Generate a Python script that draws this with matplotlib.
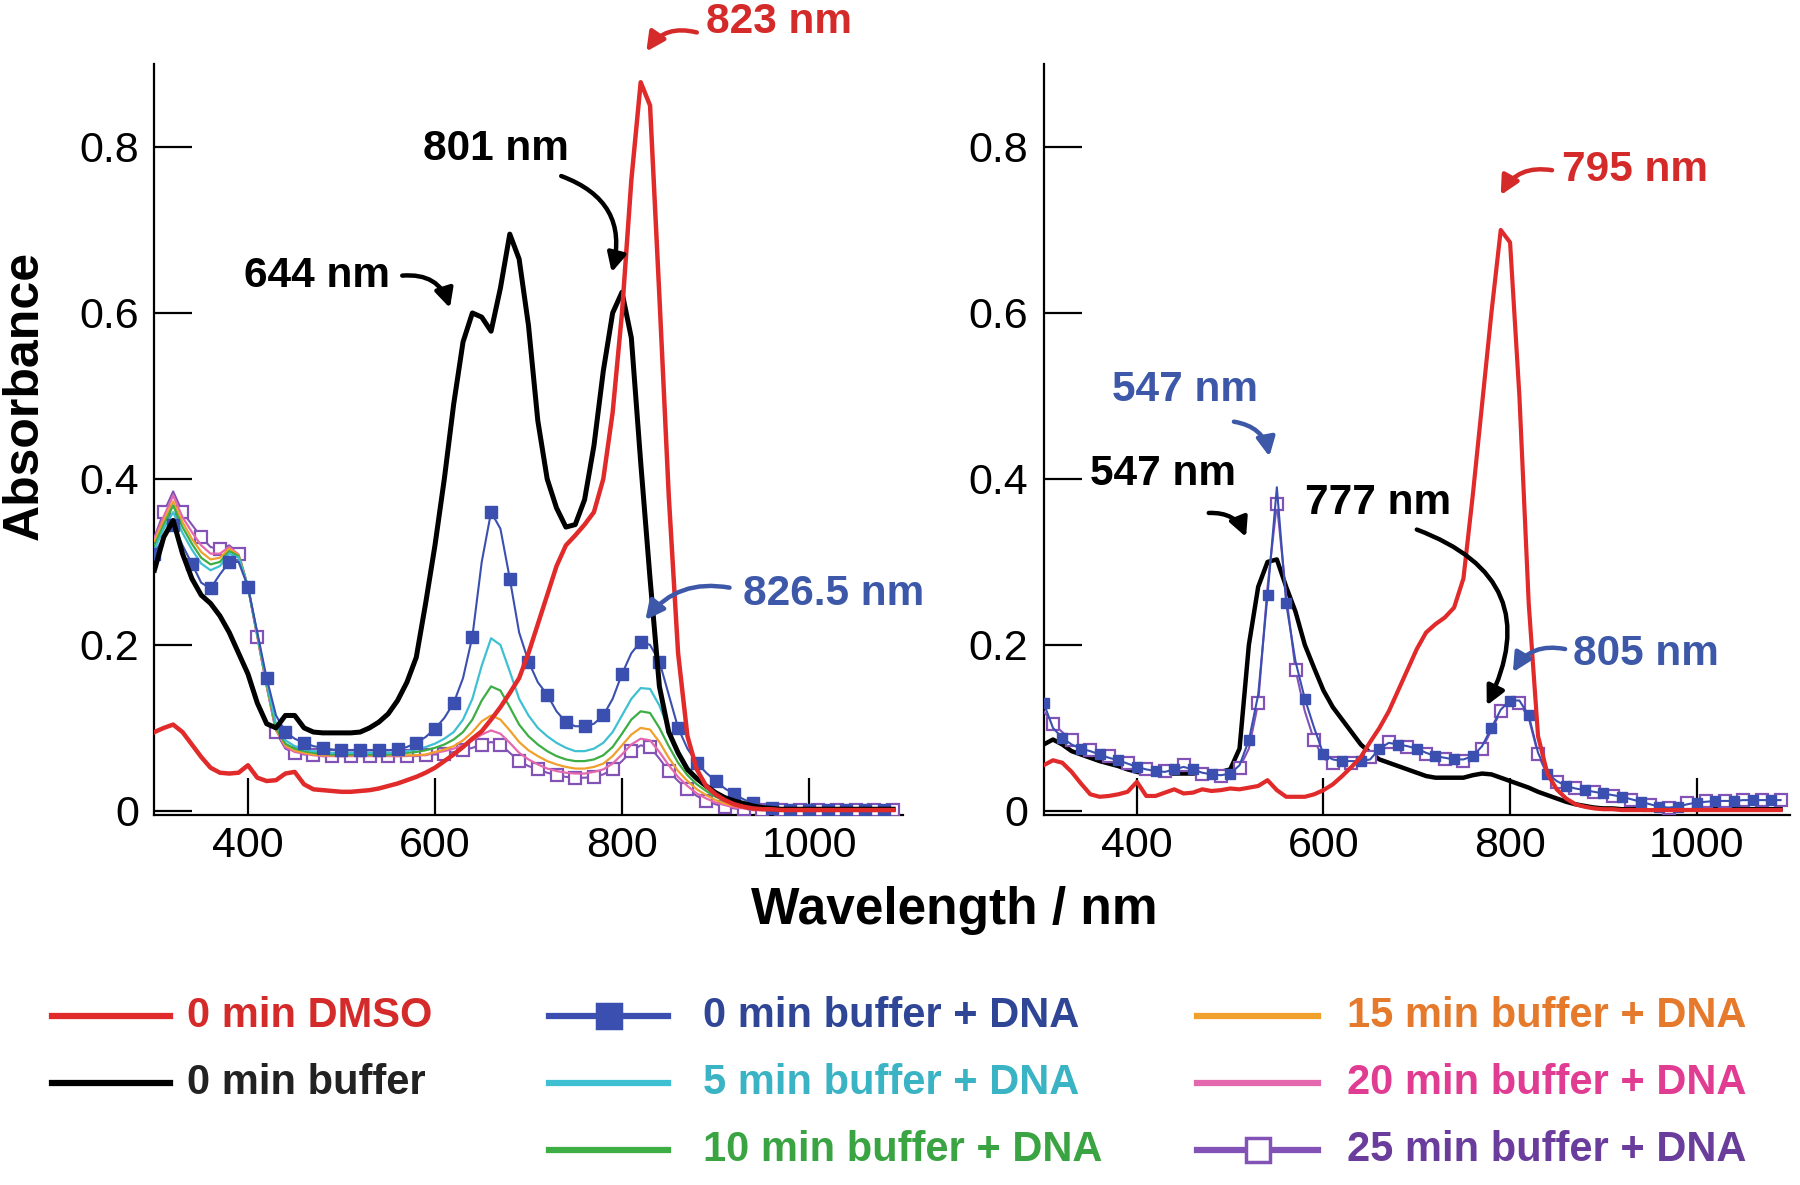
import numpy as np
import matplotlib
matplotlib.use("Agg")
import matplotlib.pyplot as plt
from matplotlib.lines import Line2D

plt.rcParams['font.family'] = ['Liberation Sans', 'DejaVu Sans']

# ---------------- data (wavelength grid 300..1090 nm, step 10) ----------------
wavelength = list(range(300, 1100, 10))

# Left panel
left_dmso = [0.095, 0.100, 0.104, 0.095, 0.080, 0.065, 0.052, 0.046, 0.045, 0.046,
             0.055, 0.040, 0.036, 0.037, 0.045, 0.047, 0.032, 0.026, 0.025, 0.024,
             0.023, 0.023, 0.024, 0.025, 0.027, 0.030, 0.033, 0.037, 0.041, 0.046,
             0.052, 0.060, 0.068, 0.077, 0.087, 0.096, 0.110, 0.125, 0.142, 0.160,
             0.190, 0.225, 0.260, 0.295, 0.320, 0.332, 0.345, 0.360, 0.400, 0.480,
             0.600, 0.760, 0.878, 0.850, 0.620, 0.380, 0.190, 0.090, 0.050, 0.030,
             0.020, 0.013, 0.008, 0.005, 0.003, 0.002, 0.002, 0.001, 0.001, 0.001,
             0.001, 0.001, 0.001, 0.001, 0.001, 0.001, 0.001, 0.001, 0.001, 0.001]
left_buffer = [0.290, 0.330, 0.350, 0.310, 0.280, 0.260, 0.250, 0.235, 0.215, 0.190,
               0.165, 0.130, 0.105, 0.100, 0.115, 0.115, 0.100, 0.095, 0.094, 0.094,
               0.094, 0.094, 0.095, 0.100, 0.107, 0.117, 0.133, 0.155, 0.185, 0.250,
               0.320, 0.400, 0.490, 0.565, 0.600, 0.595, 0.578, 0.630, 0.695, 0.665,
               0.585, 0.470, 0.400, 0.365, 0.342, 0.345, 0.375, 0.440, 0.530, 0.600,
               0.625, 0.570, 0.420, 0.280, 0.150, 0.095, 0.070, 0.050, 0.039, 0.030,
               0.022, 0.016, 0.012, 0.009, 0.006, 0.004, 0.003, 0.002, 0.002, 0.002,
               0.002, 0.002, 0.002, 0.002, 0.002, 0.002, 0.002, 0.002, 0.002, 0.002]
left_dna_0 = [0.310, 0.330, 0.345, 0.320, 0.298, 0.275, 0.268, 0.285, 0.300, 0.300,
              0.270, 0.215, 0.160, 0.115, 0.095, 0.087, 0.082, 0.078, 0.076, 0.074,
              0.073, 0.073, 0.073, 0.073, 0.073, 0.073, 0.074, 0.077, 0.082, 0.089,
              0.099, 0.112, 0.130, 0.160, 0.210, 0.300, 0.360, 0.340, 0.280, 0.215,
              0.180, 0.155, 0.140, 0.120, 0.107, 0.102, 0.102, 0.105, 0.115, 0.135,
              0.165, 0.190, 0.204, 0.200, 0.180, 0.140, 0.100, 0.075, 0.058, 0.046,
              0.036, 0.027, 0.020, 0.014, 0.009, 0.006, 0.004, 0.002, 0.001, 0.001,
              0.001, 0.001, 0.001, 0.001, 0.001, 0.001, 0.001, 0.001, 0.001, 0.001]
left_dna_5 = [0.315, 0.340, 0.360, 0.335, 0.315, 0.298, 0.290, 0.295, 0.310, 0.305,
              0.270, 0.213, 0.155, 0.105, 0.085, 0.078, 0.074, 0.072, 0.071, 0.070,
              0.070, 0.070, 0.070, 0.070, 0.070, 0.070, 0.071, 0.072, 0.074, 0.077,
              0.081, 0.087, 0.095, 0.110, 0.135, 0.175, 0.208, 0.200, 0.168, 0.135,
              0.115, 0.100, 0.090, 0.082, 0.076, 0.072, 0.072, 0.075, 0.082, 0.095,
              0.115, 0.135, 0.148, 0.147, 0.127, 0.098, 0.072, 0.053, 0.040, 0.030,
              0.022, 0.016, 0.011, 0.007, 0.005, 0.003, 0.002, 0.001, 0.001, 0.001,
              0.001, 0.001, 0.001, 0.001, 0.001, 0.001, 0.001, 0.001, 0.001, 0.001]
left_dna_10 = [0.320, 0.345, 0.368, 0.342, 0.322, 0.305, 0.297, 0.300, 0.313, 0.307,
               0.270, 0.212, 0.153, 0.100, 0.081, 0.075, 0.072, 0.070, 0.069, 0.068,
               0.068, 0.068, 0.068, 0.068, 0.068, 0.068, 0.069, 0.070, 0.071, 0.073,
               0.076, 0.080, 0.086, 0.095, 0.110, 0.133, 0.150, 0.145, 0.125, 0.104,
               0.090, 0.080, 0.072, 0.066, 0.062, 0.060, 0.060, 0.062, 0.067, 0.077,
               0.093, 0.110, 0.120, 0.118, 0.100, 0.078, 0.058, 0.043, 0.032, 0.024,
               0.017, 0.012, 0.008, 0.005, 0.003, 0.002, 0.001, 0.001, 0.001, 0.001,
               0.001, 0.001, 0.001, 0.001, 0.001, 0.001, 0.001, 0.001, 0.001, 0.001]
left_dna_15 = [0.325, 0.350, 0.373, 0.348, 0.328, 0.312, 0.303, 0.305, 0.316, 0.308,
               0.270, 0.211, 0.152, 0.098, 0.079, 0.073, 0.070, 0.068, 0.067, 0.067,
               0.067, 0.067, 0.067, 0.067, 0.067, 0.067, 0.067, 0.067, 0.067, 0.068,
               0.071, 0.074, 0.078, 0.085, 0.095, 0.108, 0.115, 0.110, 0.097, 0.083,
               0.073, 0.066, 0.060, 0.056, 0.053, 0.051, 0.051, 0.053, 0.057, 0.066,
               0.079, 0.092, 0.100, 0.098, 0.083, 0.064, 0.048, 0.036, 0.026, 0.019,
               0.013, 0.009, 0.006, 0.004, 0.002, 0.001, 0.001, 0.001, 0.001, 0.001,
               0.001, 0.001, 0.001, 0.001, 0.001, 0.001, 0.001, 0.001, 0.001, 0.001]
left_dna_20 = [0.328, 0.355, 0.380, 0.354, 0.336, 0.320, 0.310, 0.310, 0.318, 0.309,
               0.270, 0.210, 0.151, 0.097, 0.077, 0.071, 0.069, 0.067, 0.066, 0.066,
               0.066, 0.066, 0.066, 0.066, 0.066, 0.066, 0.066, 0.066, 0.067, 0.067,
               0.070, 0.072, 0.075, 0.079, 0.085, 0.092, 0.097, 0.093, 0.082, 0.070,
               0.062, 0.056, 0.051, 0.048, 0.046, 0.045, 0.045, 0.047, 0.050, 0.057,
               0.068, 0.080, 0.087, 0.085, 0.071, 0.055, 0.041, 0.030, 0.021, 0.015,
               0.010, 0.007, 0.004, 0.003, 0.001, 0.001, 0.001, 0.001, 0.001, 0.001,
               0.001, 0.001, 0.001, 0.001, 0.001, 0.001, 0.001, 0.001, 0.001, 0.001]
left_dna_25 = [0.330, 0.360, 0.385, 0.360, 0.345, 0.330, 0.318, 0.315, 0.320, 0.310,
               0.270, 0.210, 0.150, 0.095, 0.075, 0.070, 0.068, 0.067, 0.066, 0.066,
               0.066, 0.066, 0.066, 0.066, 0.066, 0.066, 0.066, 0.066, 0.066, 0.067,
               0.068, 0.069, 0.071, 0.073, 0.076, 0.080, 0.083, 0.080, 0.070, 0.060,
               0.054, 0.050, 0.046, 0.043, 0.041, 0.040, 0.040, 0.041, 0.044, 0.050,
               0.060, 0.072, 0.079, 0.077, 0.063, 0.048, 0.036, 0.026, 0.018, 0.012,
               0.008, 0.005, 0.003, 0.002, 0.001, 0.001, 0.001, 0.001, 0.001, 0.001,
               0.001, 0.001, 0.001, 0.001, 0.001, 0.001, 0.001, 0.001, 0.001, 0.001]

# Right panel
right_dmso = [0.055, 0.061, 0.058, 0.047, 0.033, 0.020, 0.017, 0.018, 0.020, 0.023,
              0.035, 0.018, 0.018, 0.022, 0.026, 0.021, 0.022, 0.026, 0.024, 0.025,
              0.027, 0.026, 0.028, 0.030, 0.037, 0.025, 0.017, 0.017, 0.017, 0.020,
              0.025, 0.032, 0.042, 0.053, 0.065, 0.083, 0.100, 0.120, 0.145, 0.170,
              0.195, 0.215, 0.225, 0.233, 0.245, 0.280, 0.380, 0.490, 0.600, 0.700,
              0.685, 0.500, 0.250, 0.090, 0.045, 0.026, 0.015, 0.008, 0.005, 0.003,
              0.002, 0.002, 0.001, 0.001, 0.001, 0.001, 0.001, 0.001, 0.001, 0.001,
              0.001, 0.001, 0.001, 0.001, 0.001, 0.001, 0.001, 0.001, 0.001, 0.001]
right_buffer = [0.080, 0.086, 0.080, 0.072, 0.068, 0.064, 0.060, 0.057, 0.054, 0.050,
                0.047, 0.045, 0.045, 0.045, 0.045, 0.045, 0.045, 0.046, 0.046, 0.047,
                0.050, 0.075, 0.200, 0.270, 0.300, 0.303, 0.270, 0.240, 0.200, 0.172,
                0.145, 0.125, 0.110, 0.095, 0.080, 0.070, 0.062, 0.058, 0.054, 0.050,
                0.046, 0.042, 0.040, 0.040, 0.040, 0.040, 0.043, 0.045, 0.044, 0.040,
                0.036, 0.032, 0.028, 0.023, 0.019, 0.015, 0.011, 0.008, 0.006, 0.004,
                0.003, 0.003, 0.002, 0.002, 0.002, 0.002, 0.002, 0.002, 0.002, 0.002,
                0.002, 0.002, 0.002, 0.002, 0.002, 0.002, 0.002, 0.002, 0.002, 0.002]
right_dna_0 = [0.130, 0.100, 0.088, 0.080, 0.075, 0.072, 0.068, 0.064, 0.061, 0.057,
               0.053, 0.050, 0.048, 0.047, 0.050, 0.053, 0.050, 0.046, 0.044, 0.043,
               0.045, 0.055, 0.085, 0.140, 0.260, 0.390, 0.250, 0.180, 0.135, 0.100,
               0.068, 0.062, 0.060, 0.060, 0.060, 0.062, 0.075, 0.082, 0.080, 0.078,
               0.075, 0.070, 0.066, 0.064, 0.062, 0.062, 0.066, 0.078, 0.100, 0.122,
               0.133, 0.133, 0.115, 0.070, 0.045, 0.036, 0.030, 0.027, 0.025, 0.023,
               0.021, 0.019, 0.017, 0.014, 0.011, 0.008, 0.005, 0.004, 0.005, 0.008,
               0.010, 0.011, 0.012, 0.012, 0.012, 0.013, 0.013, 0.013, 0.013, 0.013]
right_dna_25 = [0.120, 0.105, 0.095, 0.085, 0.078, 0.073, 0.069, 0.066, 0.062, 0.058,
                0.054, 0.050, 0.048, 0.048, 0.052, 0.055, 0.050, 0.045, 0.042, 0.042,
                0.045, 0.052, 0.075, 0.130, 0.270, 0.370, 0.260, 0.170, 0.120, 0.085,
                0.063, 0.058, 0.057, 0.058, 0.060, 0.065, 0.078, 0.083, 0.080, 0.077,
                0.073, 0.069, 0.065, 0.062, 0.061, 0.060, 0.064, 0.075, 0.097, 0.120,
                0.130, 0.130, 0.112, 0.068, 0.043, 0.035, 0.030, 0.027, 0.025, 0.023,
                0.021, 0.018, 0.016, 0.013, 0.010, 0.007, 0.005, 0.004, 0.006, 0.009,
                0.011, 0.012, 0.012, 0.012, 0.012, 0.013, 0.013, 0.013, 0.013, 0.013]

x_ticks = [400, 600, 800, 1000]
y_ticks = [0, 0.2, 0.4, 0.6, 0.8]
y_ticklabels = ['0', '0.2', '0.4', '0.6', '0.8']

legend_labels = ['0 min DMSO', '0 min buffer', '0 min buffer + DNA', '5 min buffer + DNA',
                 '10 min buffer + DNA', '15 min buffer + DNA', '20 min buffer + DNA',
                 '25 min buffer + DNA']

# ---------------- styles ----------------
C_RED = '#e12a2a'
C_BLACK = '#000000'
C_BLUE = '#3a4fb0'
C_CYAN = '#3fc0d2'
C_GREEN = '#3cae44'
C_ORANGE = '#f0a02c'
C_PINK = '#e468ae'
C_PURPLE = '#8352b6'
T_RED = '#d42a2a'
T_BLUE = '#2f4596'
T_CYAN = '#3ab3c4'
T_GREEN = '#3aa442'
T_ORANGE = '#e57a2c'
T_PINK = '#e03c92'
T_PURPLE = '#6a3d9c'
A_BLUE = '#3d58a8'

fig = plt.figure(figsize=(18, 11.85), dpi=100)
ax1 = fig.add_axes([0.0858, 0.3122, 0.4156, 0.6338])
ax2 = fig.add_axes([0.5798, 0.3122, 0.4146, 0.6338])

wl = np.array(wavelength)

def style_axis(ax):
    ax.set_xlim(300, 1100)
    ax.set_ylim(-0.005, 0.9)
    for s in ['top', 'right']:
        ax.spines[s].set_visible(False)
    for s in ['left', 'bottom']:
        ax.spines[s].set_linewidth(1.6)
    ax.set_xticks(x_ticks)
    ax.set_yticks(y_ticks)
    ax.set_yticklabels(y_ticklabels)
    ax.tick_params(direction='in', length=27, width=1.6, labelsize=31, pad=11)
    ax.tick_params(axis='x', pad=8)

# Left panel
ax1.plot(wl, left_dna_25, color=C_PURPLE, lw=1.5, marker='s', ms=8, mfc='white',
         mec=C_PURPLE, mew=1.6, markevery=(1, 2), zorder=3)
ax1.plot(wl, left_dna_20, color=C_PINK, lw=1.6, zorder=3)
ax1.plot(wl, left_dna_15, color=C_ORANGE, lw=1.6, zorder=3)
ax1.plot(wl, left_dna_10, color=C_GREEN, lw=1.6, zorder=3)
ax1.plot(wl, left_dna_5, color=C_CYAN, lw=1.6, zorder=3)
ax1.plot(wl, left_dna_0, color=C_BLUE, lw=1.5, marker='s', ms=8, mfc=C_BLUE,
         mec=C_BLUE, markevery=(0, 2), zorder=4)
ax1.plot(wl, left_buffer, color=C_BLACK, lw=3.6, zorder=5)
ax1.plot(wl, left_dmso, color=C_RED, lw=3.2, zorder=6)

# Right panel
ax2.plot(wl, right_buffer, color=C_BLACK, lw=3.2, zorder=3)
ax2.plot(wl, right_dna_25, color=C_PURPLE, lw=1.5, marker='s', ms=8, mfc='white',
         mec=C_PURPLE, mew=1.6, markevery=(1, 2), zorder=4)
ax2.plot(wl, right_dna_0, color=C_BLUE, lw=1.5, marker='s', ms=7, mfc=C_BLUE,
         mec=C_BLUE, markevery=(0, 2), zorder=4)
ax2.plot(wl, right_dmso, color=C_RED, lw=3.0, zorder=5)

style_axis(ax1)
style_axis(ax2)

# ---------------- annotations ----------------
def note(ax, text, color, txy, start, tip, rad):
    ax.text(txy[0], txy[1], text, color=color, fontsize=30.5, fontweight='bold',
            ha='center', va='center', clip_on=False, zorder=10)
    ax.annotate('', xy=tip, xytext=start,
                arrowprops=dict(arrowstyle='-|>', color=color, lw=3.2,
                                mutation_scale=28, shrinkA=0, shrinkB=0,
                                connectionstyle='arc3,rad=%s' % rad),
                annotation_clip=False, zorder=10)

note(ax1, '823 nm', T_RED, (968, 0.95), (880, 0.938), (826, 0.915), 0.35)
note(ax1, '801 nm', C_BLACK, (665, 0.797), (735, 0.765), (789, 0.649), -0.45)
note(ax1, '644 nm', C_BLACK, (474, 0.645), (565, 0.645), (616, 0.606), -0.4)
note(ax1, '826.5 nm', A_BLUE, (1026, 0.261), (915, 0.269), (825, 0.23), 0.3)

note(ax2, '795 nm', T_RED, (934, 0.772), (845, 0.772), (790, 0.742), 0.35)
note(ax2, '547 nm', A_BLUE, (451, 0.507), (504, 0.469), (542, 0.427), -0.35)
note(ax2, '547 nm', C_BLACK, (428, 0.406), (477, 0.359), (517, 0.33), -0.35)
note(ax2, '777 nm', C_BLACK, (659, 0.371), (700, 0.339), (775, 0.127), -0.55)
note(ax2, '805 nm', A_BLUE, (946, 0.189), (859, 0.195), (803, 0.167), 0.35)

# ---------------- axis titles ----------------
fig.text(0.014, 0.666, 'Absorbance', rotation=90, fontsize=36, fontweight='bold',
         ha='center', va='center')
fig.text(0.53, 0.232, 'Wavelength / nm', fontsize=37, fontweight='bold',
         ha='center', va='center')

# ---------------- legend (manual, 3 columns) ----------------
H = 1185.0
W = 1800.0
rows_y = [1 - 1016 / H, 1 - 1083 / H, 1 - 1150 / H]
cols = [(52, 170, 187), (549, 668, 703), (1197, 1318, 1347)]
legend_items = [
    (0, 0, legend_labels[0], C_RED, T_RED, None, None),
    (0, 1, legend_labels[1], C_BLACK, '#222222', None, None),
    (1, 0, legend_labels[2], C_BLUE, T_BLUE, 's', C_BLUE),
    (1, 1, legend_labels[3], C_CYAN, T_CYAN, None, None),
    (1, 2, legend_labels[4], C_GREEN, T_GREEN, None, None),
    (2, 0, legend_labels[5], C_ORANGE, T_ORANGE, None, None),
    (2, 1, legend_labels[6], C_PINK, T_PINK, None, None),
    (2, 2, legend_labels[7], C_PURPLE, T_PURPLE, 's', 'white'),
]
for c, r, lab, lc, tc, mk, mfc in legend_items:
    x0, x1, xt = cols[c]
    y = rows_y[r]
    fig.add_artist(Line2D([x0 / W, x1 / W], [y, y], color=lc, lw=4.5,
                          transform=fig.transFigure))
    if mk:
        fig.add_artist(Line2D([(x0 + x1) / 2 / W], [y], color=lc, marker=mk, ms=17,
                              mfc=mfc, mec=lc, mew=2.5, transform=fig.transFigure))
    fig.text(xt / W, y, lab, color=tc, fontsize=30, fontweight='bold',
             ha='left', va='center')

fig.savefig('out.png', dpi=100, facecolor='white')
